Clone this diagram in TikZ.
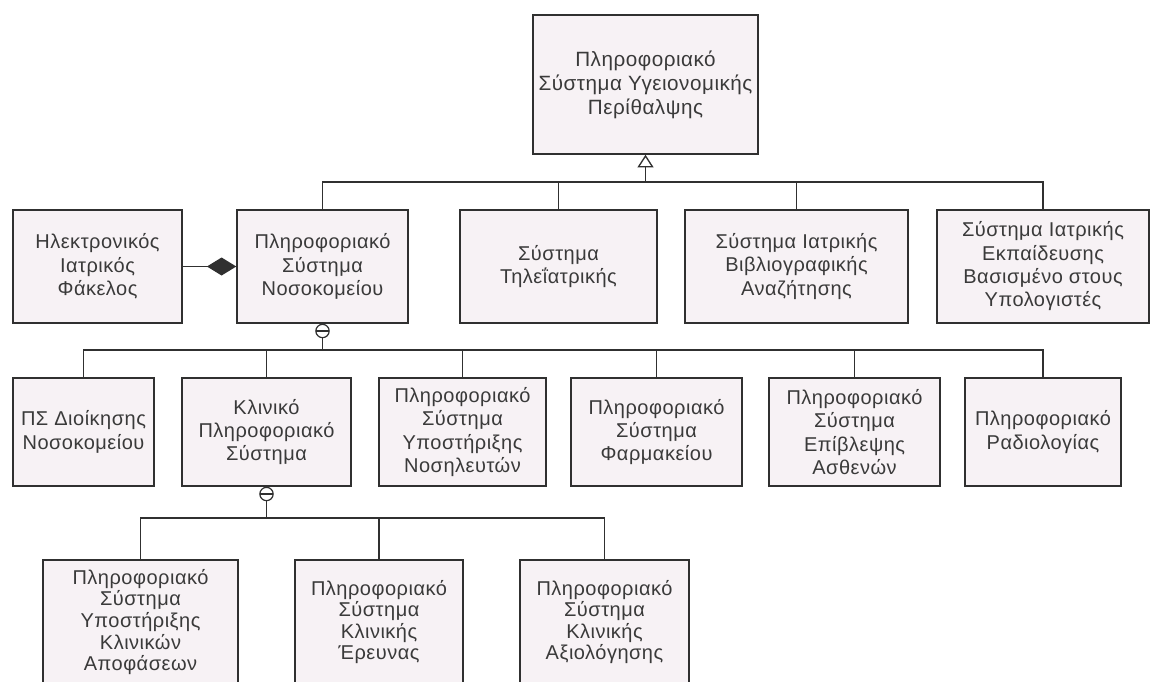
\documentclass[tikz,border=0pt]{standalone}
\usepackage{fontspec}
\setmainfont[LetterSpace=2.5]{Liberation Sans}
\usetikzlibrary{arrows.meta}
\definecolor{ink}{RGB}{48,48,48}
\definecolor{txt}{RGB}{58,58,58}
\definecolor{boxfill}{RGB}{247,242,245}
\begin{document}
\begin{tikzpicture}[x=0.75pt,y=-0.75pt,
  box/.style={draw=ink, line width=1.1pt, fill=boxfill, text=txt, align=center,
    inner sep=2pt, font=\fontsize{15}{17.5}\selectfont},
  tight/.style={font=\fontsize{15}{16.2}\selectfont},
  sz/.style 2 args={minimum width=#1*0.75pt, minimum height=#2*0.75pt},
  link/.style={draw=ink, line width=1pt},
  xmark/.style={circle, draw=ink, line width=0.9pt, fill=white, inner sep=0pt,
    minimum size=10pt,
    path picture={\draw[ink, line width=0.9pt] (path picture bounding box.west) -- (path picture bounding box.east);}}]

\path[use as bounding box] (0,0) rectangle (1155,681);
\clip (0,0) rectangle (1155,681);
\fill[white] (0,0) rectangle (1155,681);

% root
\node[box, sz={225}{139}, font=\fontsize{15.5}{18}\selectfont] (top) at (645.5,84.5) {Πληροφοριακό\\Σύστημα Υγειονομικής\\Περίθαλψης};

% second level
\node[box, sz={169}{113}] (ehr)  at (97.5,266.5)  {Ηλεκτρονικός\\Ιατρικός\\Φάκελος};
\node[box, sz={171}{113}] (hosp) at (322.5,266.5) {Πληροφοριακό\\Σύστημα\\Νοσοκομείου};
\node[box, sz={197}{113}] (tele) at (558.5,266.5) {Σύστημα\\Τηλεΐατρικής};
\node[box, sz={223}{113}] (bib)  at (796.5,266.5) {Σύστημα Ιατρικής\\Βιβλιογραφικής\\Αναζήτησης};
\node[box, sz={212}{113}] (edu)  at (1043,266.5)  {Σύστημα Ιατρικής\\Εκπαίδευσης\\Βασισμένο στους\\Υπολογιστές};

% third level
\node[box, sz={141}{108}] (adm)   at (83.5,432)  {ΠΣ Διοίκησης\\Νοσοκομείου};
\node[box, sz={169}{108}] (clin)  at (266.5,432) {Κλινικό\\Πληροφοριακό\\Σύστημα};
\node[box, sz={167}{108}] (nurse) at (462.5,432) {Πληροφοριακό\\Σύστημα\\Υποστήριξης\\Νοσηλευτών};
\node[box, sz={171}{108}] (pharm) at (656.5,432) {Πληροφοριακό\\Σύστημα\\Φαρμακείου};
\node[box, sz={171}{108}] (monit) at (854.5,432) {Πληροφοριακό\\Σύστημα\\Επίβλεψης\\Ασθενών};
\node[box, sz={156}{108}] (rad)   at (1043,432)  {Πληροφοριακό\\Ραδιολογίας};

% fourth level
\node[box, tight, sz={195}{124}] (dss)  at (140.5,622) {Πληροφοριακό\\Σύστημα\\Υποστήριξης\\Κλινικών\\Αποφάσεων};
\node[box, tight, sz={168}{124}] (res)  at (379,622)   {Πληροφοριακό\\Σύστημα\\Κλινικής\\Έρευνας};
\node[box, tight, sz={169}{124}] (eval) at (604.5,622) {Πληροφοριακό\\Σύστημα\\Κλινικής\\Αξιολόγησης};

% bus junctions
\coordinate (b1) at (645.5,182);
\coordinate (b2) at (322.5,350);
\coordinate (b3) at (266.5,518);

% generalisation to the root
\draw[link, -{Triangle[open, length=9.5pt, width=12pt, fill=white]}] (b1) -- (top.south);
\draw[link] (hosp.north) |- (b1) -| (edu.north);
\draw[link] (tele.north) -- (tele.north |- b1);
\draw[link] (bib.north) -- (bib.north |- b1);

% composition
\draw[link, -{Diamond[length=22pt, width=13.5pt, fill=ink]}] (ehr.east) -- (hosp.west);

% hospital subsystems
\node[xmark, anchor=north] (m1) at (hosp.south) {};
\draw[link] (m1.south) -- (b2);
\draw[link] (adm.north) |- (b2) -| (rad.north);
\draw[link] (clin.north) -- (clin.north |- b2);
\draw[link] (nurse.north) -- (nurse.north |- b2);
\draw[link] (pharm.north) -- (pharm.north |- b2);
\draw[link] (monit.north) -- (monit.north |- b2);

% clinical subsystems
\node[xmark, anchor=north] (m2) at (clin.south) {};
\draw[link] (m2.south) -- (b3);
\draw[link] (dss.north) |- (b3) -| (eval.north);
\draw[link] (res.north) -- (res.north |- b3);
\end{tikzpicture}
\end{document}
